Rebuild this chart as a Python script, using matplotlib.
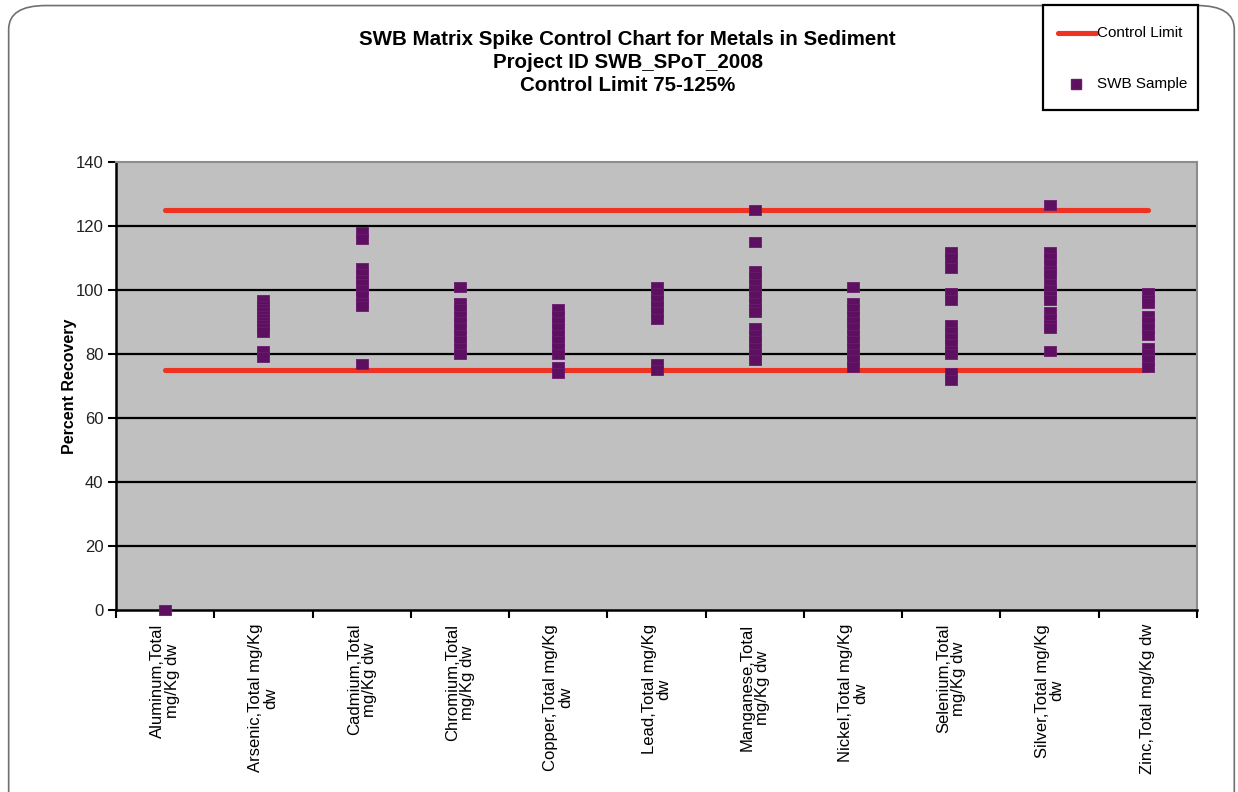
import matplotlib
matplotlib.use("Agg")
import matplotlib.pyplot as plt
from matplotlib.patches import FancyBboxPatch, Rectangle
from matplotlib.lines import Line2D

plt.rcParams['font.family'] = ['Liberation Sans', 'DejaVu Sans']

categories = [
    "Aluminum,Total\nmg/Kg dw",
    "Arsenic,Total mg/Kg\ndw",
    "Cadmium,Total\nmg/Kg dw",
    "Chromium,Total\nmg/Kg dw",
    "Copper,Total mg/Kg\ndw",
    "Lead,Total mg/Kg\ndw",
    "Manganese,Total\nmg/Kg dw",
    "Nickel,Total mg/Kg\ndw",
    "Selenium,Total\nmg/Kg dw",
    "Silver,Total mg/Kg\ndw",
    "Zinc,Total mg/Kg dw",
]

aluminum = [0]
arsenic = [97, 95, 94, 93, 92, 91, 90, 89, 88, 87, 81, 79]
cadmium = [118, 116, 107, 105, 103, 102, 100, 98, 96, 95, 77]
chromium = [101, 96, 94, 92, 90, 88, 86, 84, 82, 80]
copper = [94, 92, 90, 88, 86, 84, 82, 80, 76, 74]
lead = [101, 99, 97, 95, 93, 91, 77, 75]
manganese = [125, 115, 106, 104, 102, 100, 98, 96, 94, 93, 88, 86, 84, 82, 80, 78]
nickel = [101, 96, 94, 92, 90, 88, 86, 84, 82, 80, 78, 76]
selenium = [112, 110, 107, 99, 97, 89, 87, 85, 83, 81, 80, 74, 72]
silver = [126.5, 112, 110, 108, 106, 105, 102, 100, 98, 97, 93, 91, 89, 88, 81]
zinc = [99, 97, 96, 92, 90, 88, 86, 82, 80, 78, 76]

samples = [aluminum, arsenic, cadmium, chromium, copper, lead,
           manganese, nickel, selenium, silver, zinc]

lower_limit = 75
upper_limit = 125
y_ticks = [0, 20, 40, 60, 80, 100, 120, 140]

title_text = ("SWB Matrix Spike Control Chart for Metals in Sediment\n"
              "Project ID SWB_SPoT_2008\nControl Limit 75-125%")
legend_labels = ["Control Limit", "SWB Sample"]

RED = '#EE3322'
PURPLE = '#5E1060'
marker_shape = [(-1.2, -1.0), (1.2, -1.0), (1.2, 1.0), (-1.2, 1.0), (-1.2, -1.0)]

W, H = 1238, 792
fig = plt.figure(figsize=(W / 100, H / 100), dpi=100)
fig.patch.set_facecolor('white')


def fx(px):
    return px / W


def fy(py):
    return 1 - py / H


# rounded outer frame
frame = FancyBboxPatch((0.007, -0.05), 0.990, 1.043,
                       boxstyle="round,pad=0,rounding_size=0.03",
                       transform=fig.transFigure, fill=False,
                       edgecolor='#707070', linewidth=1.2, zorder=0)
fig.patches.append(frame)

ax = fig.add_axes([0.0937, 0.2298, 0.8732, 0.5657])
ax.set_facecolor('#C0C0C0')

n = len(categories)
xs = list(range(n))

# gridlines
for y in y_ticks[1:-1]:
    ax.axhline(y, color='black', linewidth=1.6, zorder=1)

# control limits
ax.plot([xs[0], xs[-1]], [upper_limit, upper_limit], color=RED,
        linewidth=3.7, solid_capstyle='round', zorder=2)
ax.plot([xs[0], xs[-1]], [lower_limit, lower_limit], color=RED,
        linewidth=3.7, solid_capstyle='round', zorder=2)

# samples
for i, vals in enumerate(samples):
    ax.plot([i] * len(vals), vals, linestyle='none', marker=marker_shape,
            markersize=8.6, markerfacecolor=PURPLE,
            markeredgecolor='#6A1A70', markeredgewidth=0.6,
            zorder=3, clip_on=False)

ax.set_xlim(-0.5, n - 0.5)
ax.set_ylim(0, 140)
ax.set_yticks(y_ticks)
ax.set_yticklabels([str(v) for v in y_ticks], fontsize=12, color='#222222')
ax.tick_params(axis='y', direction='out', length=6, width=1.5, pad=3)

ax.set_xticks([k - 0.5 for k in range(n + 1)])
ax.set_xticklabels([])
ax.tick_params(axis='x', which='major', direction='out', length=6, width=1.5)
ax.set_xticks(xs, minor=True)
ax.set_xticklabels(categories, minor=True, rotation=90, fontsize=12,
                   ha='center', va='top', multialignment='center',
                   linespacing=1.0)
ax.tick_params(axis='x', which='minor', length=0, pad=10)

for side in ['left', 'bottom']:
    ax.spines[side].set_color('black')
    ax.spines[side].set_linewidth(1.8)
for side in ['top', 'right']:
    ax.spines[side].set_color('#8C8C8C')
    ax.spines[side].set_linewidth(1.5)

ax.set_ylabel("Percent Recovery", fontsize=11.5, fontweight='bold',
              labelpad=-1)

fig.text(0.507, 0.962, title_text, ha='center', va='top', fontsize=14.8,
         fontweight='bold', linespacing=1.25)

# legend box (drawn in figure coordinates)
fig.patches.append(Rectangle((fx(1043), fy(110)), fx(1198) - fx(1043),
                             fy(5) - fy(110), transform=fig.transFigure,
                             fill=True, facecolor='white', edgecolor='black',
                             linewidth=1.6, zorder=5))
fig.lines.append(Line2D([fx(1058), fx(1096)], [fy(33), fy(33)],
                        transform=fig.transFigure, color=RED, linewidth=3.7,
                        solid_capstyle='round', zorder=6))
fig.text(fx(1097), fy(33), legend_labels[0], ha='left', va='center',
         fontsize=11, zorder=6)
fig.lines.append(Line2D([fx(1076)], [fy(84)], transform=fig.transFigure,
                        linestyle='none', marker='s', markersize=7.5,
                        markerfacecolor=PURPLE, markeredgecolor='#6A1A70',
                        zorder=6))
fig.text(fx(1097), fy(84), legend_labels[1], ha='left', va='center',
         fontsize=11, zorder=6)

fig.savefig("out.png", dpi=100, facecolor='white')
